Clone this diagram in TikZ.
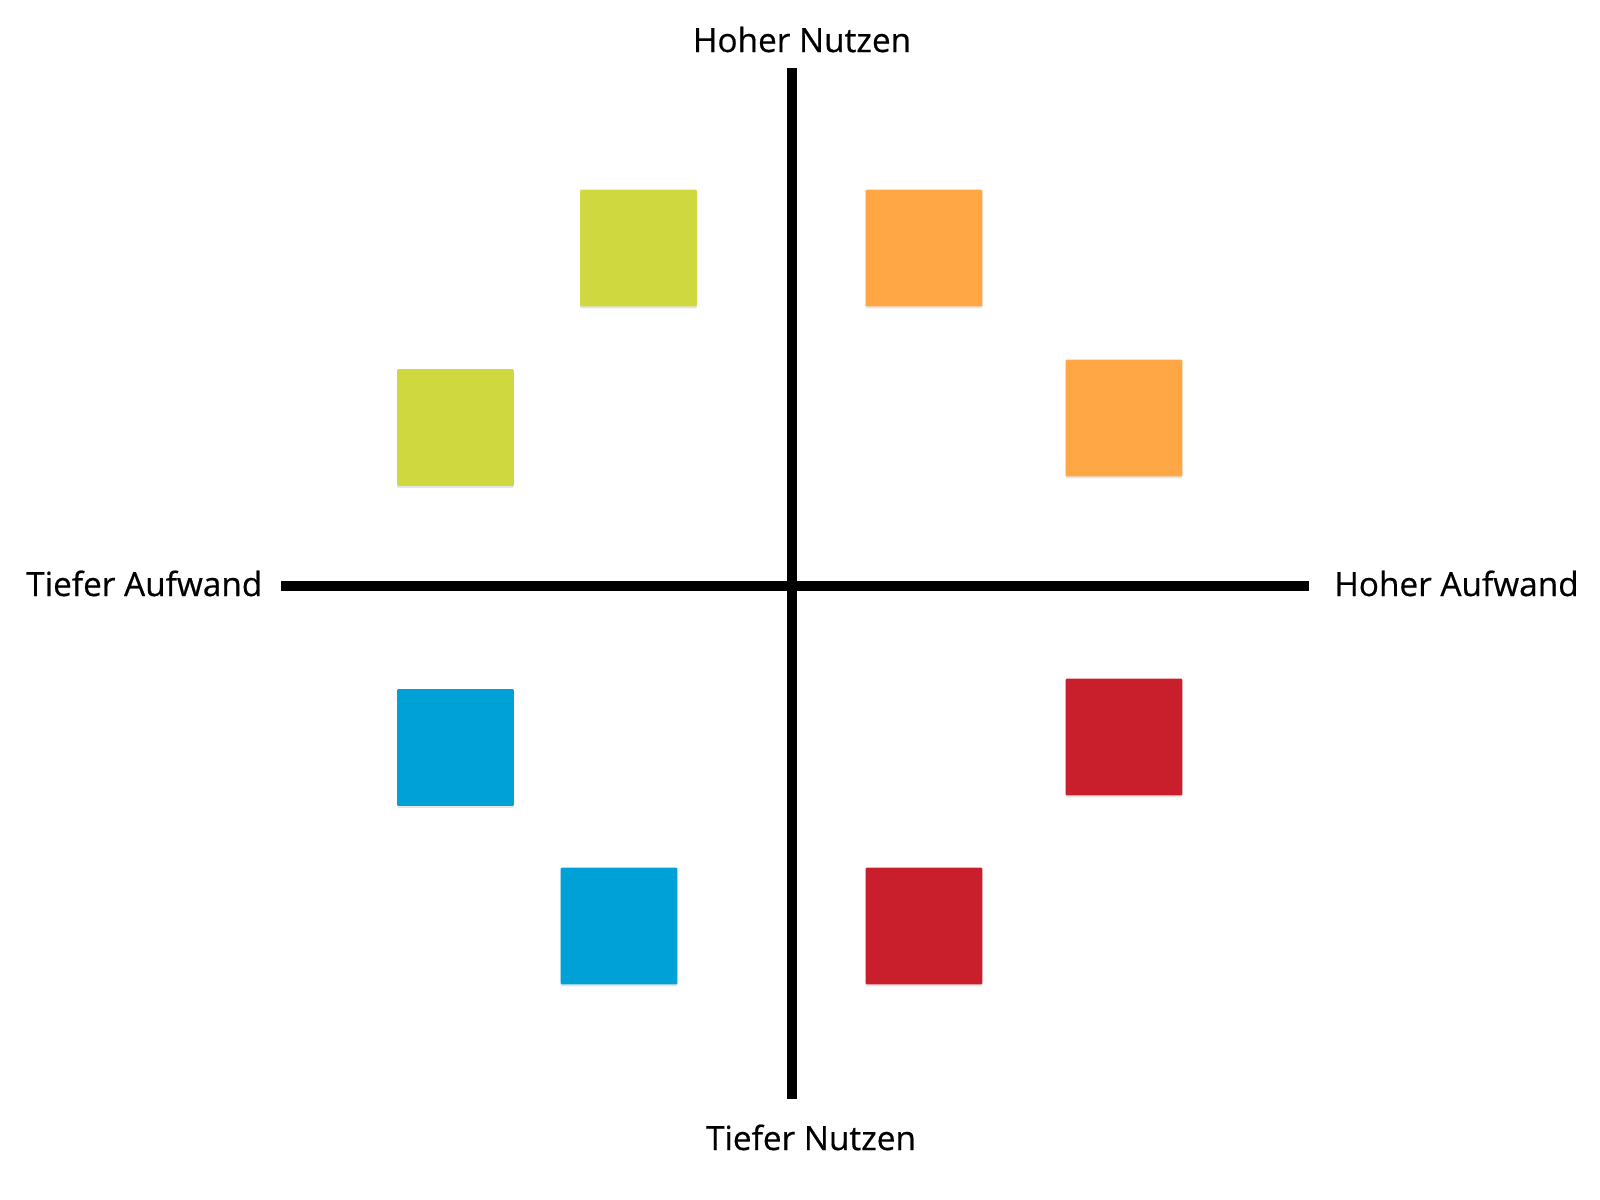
\documentclass[tikz,border=0pt]{standalone}
\usepackage{fontspec}
\setmainfont{Open Sans}
\newfontfamily\labfont{Open Sans}[FakeBold=0.5]
\usetikzlibrary{shadows}
\definecolor{cgreen}{RGB}{208,216,64}
\definecolor{corange}{RGB}{255,166,69}
\definecolor{cred}{RGB}{201,30,43}
\definecolor{cblue}{RGB}{0,161,214}
\begin{document}
\begin{tikzpicture}[x=0.75pt,y=-0.75pt,
  axisline/.style={line width=6.8pt,black},
  axislabel/.style={font=\labfont\fontsize{25}{28}\selectfont,inner sep=0pt},
  sq/.style={minimum width=87.5pt,minimum height=87.5pt,inner sep=0pt,rounded corners=0.8pt,
    drop shadow={shadow xshift=0pt,shadow yshift=-1.5pt,opacity=0.10,fill=black}}]
\fill[white] (0,0) rectangle (1600,1200);
\useasboundingbox (0,0) rectangle (1600,1200);
% axes
\coordinate (top) at (792,68);
\coordinate (bottom) at (792,1099);
\coordinate (left) at (281,586);
\coordinate (right) at (1309,586);
\draw[axisline] (left) -- (right);
\draw[axisline] (top) -- (bottom);
% labels
\node[axislabel,anchor=base] (hn) at (802,52) {Hoher Nutzen};
\node[axislabel,anchor=base] (tn) at (811,1150) {Tiefer Nutzen};
\node[axislabel,anchor=base west] (ta) at (26,596) {Tiefer Aufwand};
\node[axislabel,anchor=base west] (ha) at (1334,596) {Hoher Aufwand};
% squares
\node[sq,fill=cgreen] (g1) at (638.5,248) {};
\node[sq,fill=corange] (o1) at (924,248) {};
\node[sq,fill=cgreen] (g2) at (455.5,427.5) {};
\node[sq,fill=corange] (o2) at (1124,418) {};
\node[sq,fill=cblue] (b1) at (455.5,747.5) {};
\node[sq,fill=cred] (r1) at (1124,737) {};
\node[sq,fill=cblue] (b2) at (619,926) {};
\node[sq,fill=cred] (r2) at (924,926) {};
\end{tikzpicture}
\end{document}
